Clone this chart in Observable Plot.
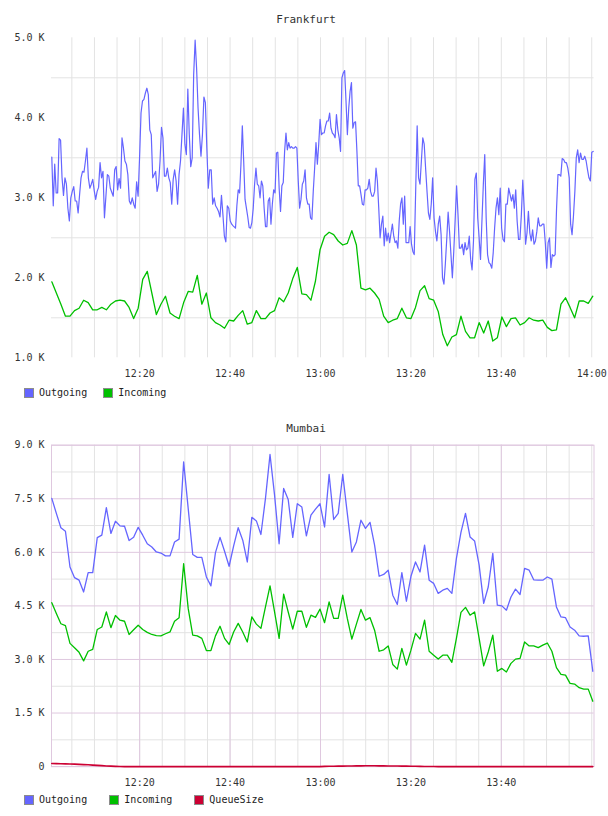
<!DOCTYPE html>
<html><head><meta charset="utf-8">
<script src="https://cdn.jsdelivr.net/npm/d3@7"></script>
<script src="https://cdn.jsdelivr.net/npm/@observablehq/plot@0.6"></script>
<style>
body{margin:0;background:#fff;}
#page{position:relative;width:608px;height:816px;overflow:hidden;font-family:"DejaVu Sans Mono",monospace;color:#222;}
.title{position:absolute;left:0;width:612px;text-align:center;font-size:11px;line-height:14px;color:#333;}
.legend{position:absolute;left:24px;font-size:10px;line-height:12px;height:12px;display:flex;align-items:center;white-space:nowrap;}
.item{display:flex;align-items:center;}
.sw{display:inline-block;width:8px;height:8px;border:1px solid #8c8c8c;margin-right:5px;}
.chart{position:absolute;left:0;}
</style></head>
<body><div id="page"></div>
<script>
// ---------- data (values in K) ----------
const seriesNames = ["Outgoing", "Incoming", "QueueSize"];
const seriesColors = ["#6565ff", "#00c000", "#cc0033"];

// Frankfurt outgoing, read in three stretches (dense ~20 s samples)
const frankOutA = [3.51,2.90,3.42,3.06,3.06,3.74,3.72,3.25,3.03,3.25,
3.17,2.87,2.71,3.00,3.08,3.14,2.96,2.96,2.81,3.04,
3.25,3.33,3.32,3.46,3.62,3.25,3.12,3.17,3.23,3.09,
2.98,3.08,3.13,3.44,3.25,3.33,2.75,3.02,3.29,3.27,
3.12,3.07,3.02,3.35,3.39,3.10,3.24,3.12,3.75,3.62,
3.46,3.42,3.29,2.96,2.92,3.00,2.92,2.87,3.20,3.02,
3.50,4.06,4.21,4.23,4.31,4.37,4.29,3.85,3.79,3.25,
3.29,3.33,3.08,3.17,3.46,3.88,3.75,3.27,3.27,3.37,
3.25,3.19,2.92,3.23,3.35,3.21,2.92,3.29,3.46,3.79,
4.12,3.67,3.54,4.36,3.79,3.39,3.50,4.54,4.97,4.62,
4.12,3.79,3.52,3.79,4.26,4.19,3.62,3.12,3.35,3.35,
2.92,3.00,2.90,2.87,2.83,2.76,3.03,2.79,2.52,2.45,
2.90,2.87,2.71,2.67,2.65];
const frankOutB = [2.62,2.90,3.10,3.06,3.42,3.90,3.46,2.98,2.87,2.76,
2.63,2.62,2.69,2.87,3.17,3.37,3.17,3.15,3.00,3.21,
3.15,2.87,2.64,2.64,2.96,3.00,2.67,2.92,3.10,3.06,
3.56,3.57,3.12,2.83,3.15,3.19,3.58,3.81,3.60,3.69,
3.62,3.64,3.62,3.62,3.64,3.62,3.21,2.87,2.98,3.17,
3.21,3.35,3.00,2.92,2.92,2.75,2.73,3.08,3.37,3.69,
3.42,3.67,3.98,3.79,3.81,3.81,3.90,3.96,3.96,4.06,
3.87,3.81,3.79,3.75,4.04,3.85,3.75,3.58,4.50,4.56,
4.59,4.21,3.79,4.12,4.33,4.44,3.87,3.94,3.95,3.58,
3.15,3.15,3.04,2.92,2.91,3.10,3.10,3.12,3.23,3.08,
3.02,3.02,3.08,3.37,3.21,2.87,2.50,2.67,2.77,2.40,
2.62,2.46,2.56,2.44,2.56,2.67,2.52,2.44,2.46,2.37,
2.71,2.92,3.00,2.67,3.02,2.44,2.44,2.44,2.64,2.42,
2.33,2.29];
const frankOutC = [3.90,3.25,3.17,3.46,3.75,3.67,3.37,3.08,2.81,
2.73,2.92,3.25,2.75,2.58,2.46,2.67,2.77,2.54,2.00,
1.92,2.17,2.48,2.82,2.58,2.29,2.00,2.33,2.73,3.15,
2.79,2.37,2.37,2.42,2.29,2.44,2.35,2.37,2.52,2.23,
2.10,2.46,3.23,3.31,2.75,2.50,2.23,2.71,3.17,3.54,
2.75,2.29,2.19,2.17,2.12,2.31,2.62,2.87,3.00,2.79,
3.12,2.62,2.48,2.45,2.92,2.92,3.12,3.04,2.96,3.04,
2.87,3.10,2.71,2.48,2.48,2.79,3.22,2.87,2.42,2.56,
2.83,2.56,2.46,2.60,2.42,2.46,2.58,2.75,2.65,2.65,
2.67,2.67,2.44,2.12,2.44,2.50,2.13,2.29,2.27,2.29,
2.87,3.29,3.29,3.27,3.49,3.48,3.44,3.44,3.37,3.25,
2.67,2.54,2.77,3.08,3.50,3.60,3.44,3.56,3.48,3.48,
3.52,3.46,3.35,3.25,3.21,3.57,3.58];
const frankOutSpans = [["12:00:34","12:40:41"],["12:41:12","13:20:44"],["13:21:23","14:00:19"]];

// Frankfurt incoming (1-minute samples)
const frankIn = [1.95,1.81,1.67,1.52,1.52,1.59,1.62,1.72,1.69,1.60,
1.60,1.63,1.60,1.67,1.71,1.72,1.71,1.63,1.49,1.62,
1.98,2.08,1.81,1.54,1.67,1.77,1.56,1.52,1.49,1.69,
1.83,1.82,2.03,1.67,1.81,1.50,1.44,1.41,1.37,1.47,
1.46,1.53,1.59,1.42,1.44,1.59,1.49,1.49,1.56,1.59,
1.75,1.70,1.81,1.99,2.13,1.80,1.79,1.72,1.96,2.35,
2.52,2.57,2.54,2.46,2.41,2.43,2.59,2.41,1.87,1.85,
1.87,1.81,1.73,1.52,1.44,1.47,1.49,1.62,1.50,1.49,
1.63,1.84,1.90,1.74,1.72,1.58,1.29,1.15,1.26,1.29,
1.52,1.33,1.25,1.25,1.44,1.31,1.46,1.21,1.25,1.51,
1.39,1.49,1.50,1.41,1.44,1.50,1.47,1.46,1.47,1.38,
1.34,1.35,1.67,1.75,1.63,1.50,1.71,1.71,1.68,1.77];

// Mumbai (1-minute samples)
const mumOut = [7.51,7.09,6.69,6.59,5.59,5.29,5.22,4.89,5.43,5.43,
6.41,6.48,7.25,6.53,6.87,6.74,6.73,6.33,6.42,6.70,
6.48,6.24,6.15,6.01,5.98,5.90,5.90,6.29,6.37,8.53,
7.23,5.94,5.86,5.86,5.31,5.06,5.99,6.42,6.03,5.61,
6.18,6.69,6.34,5.73,6.98,6.88,6.50,7.51,8.74,7.60,
6.24,7.79,7.48,6.42,7.36,7.27,6.46,7.04,7.21,7.36,
6.71,8.18,6.92,7.09,8.18,7.09,6.01,6.29,6.90,6.67,
6.84,6.20,5.33,5.38,5.50,4.80,4.54,5.43,4.63,5.33,
5.73,5.45,6.20,5.22,5.13,4.85,4.94,4.99,4.85,5.83,
6.56,7.09,6.43,6.32,5.64,4.57,5.03,5.97,4.52,4.50,
4.38,4.75,4.97,4.82,5.55,5.50,5.23,5.22,5.22,5.31,
5.25,4.47,4.19,4.17,3.91,3.82,3.66,3.65,3.66,2.67];
const mumIn = [4.59,4.29,4.00,3.95,3.45,3.33,3.20,2.96,3.23,3.28,
3.84,3.91,4.33,3.89,4.23,4.10,4.07,3.70,3.83,3.96,
3.84,3.76,3.70,3.67,3.66,3.72,3.77,4.07,4.17,5.68,
4.43,3.68,3.66,3.59,3.25,3.25,3.66,3.93,3.59,3.42,
3.77,4.01,3.77,3.49,4.19,3.99,3.87,4.47,5.06,4.33,
3.59,4.83,4.33,3.85,4.35,4.35,3.90,4.24,4.18,4.41,
4.03,4.61,4.15,4.15,4.80,4.15,3.57,3.99,4.40,4.10,
4.17,3.82,3.23,3.27,3.38,2.86,2.73,3.31,2.84,3.26,
3.73,3.57,4.10,3.23,3.12,3.01,3.12,3.12,2.92,3.59,
4.32,4.46,4.24,4.33,3.59,2.82,3.21,3.68,2.67,2.75,
2.65,2.89,3.01,3.03,3.49,3.38,3.38,3.33,3.40,3.46,
3.23,2.77,2.58,2.56,2.33,2.31,2.21,2.17,2.17,1.83];
const mumQueue = [0.088,0.084,0.080,0.076,0.072,0.068,0.062,0.056,0.050,0.042,
0.034,0.026,0.018,0.012,0.006,0.002,0,0,0,0,
0,0,0,0,0,0,0,0,0,0,
0,0,0,0,0,0,0,0,0,0,
0,0,0,0,0,0,0,0,0,0,
0,0,0,0,0,0,0,0,0,0,
0.005,0.008,0.010,0.012,0.014,0.016,0.018,0.020,0.020,0.022,
0.022,0.022,0.020,0.020,0.018,0.018,0.016,0.014,0.012,0.010,
0.008,0.006,0.004,0.002,0.001,0,0,0,0,0,
0,0,0,0,0,0,0,0,0,0,
0,0,0,0,0,0,0,0,0,0,
0,0,0,0,0,0,0,0,0,0];
const minuteSpan = ["12:00:34", "14:00:14"];

// axes / ticks
const timeDomain = ["12:00:30", "14:00:30"];
const frankTickLabels = ["12:20","12:40","13:00","13:20","13:40","14:00"];
const mumTickLabels = ["12:20","12:40","13:00","13:20","13:40"];
const frankYTicks = [1, 2, 3, 4, 5];
const frankYGrid = [1.5, 2.5, 3.5, 4.5];
const mumYTicks = [0, 1.5, 3, 4.5, 6, 7.5, 9];
const mumYMinor = [0.75, 2.25, 3.75, 5.25, 6.75, 8.25];

// ---------- helpers ----------
const pT = d3.utcParse("%H:%M:%S");
const pHM = d3.utcParse("%H:%M");
function spread(values, span) {
  const t0 = +pT(span[0]), t1 = +pT(span[1]), n = values.length;
  return values.map((v, i) => ({t: new Date(t0 + (t1 - t0) * i / (n - 1)), v}));
}
const xDom = timeDomain.map(pT);
const grid5 = d3.utcMinute.every(5).range(xDom[0], xDom[1]);
const fmtK = d => d === 0 ? "0" : d.toFixed(1) + " K";
const GRAY = "#e3e3e3", PURPLE = "#dfc8df";
const baseStyle = {fontFamily: "'DejaVu Sans Mono', monospace", fontSize: "10px", color: "#333", background: "transparent"};

const frankOutData = [frankOutA, frankOutB, frankOutC].flatMap((a, i) => spread(a, frankOutSpans[i]));
const frankInData = spread(frankIn, minuteSpan);

const page = document.getElementById("page");
function addTitle(text, top) {
  const d = document.createElement("div"); d.className = "title"; d.style.top = top + "px"; d.textContent = text; page.appendChild(d);
}
function addLegend(names, top, gap) {
  const d = document.createElement("div"); d.className = "legend"; d.style.top = top + "px";
  names.forEach((n, i) => {
    const it = document.createElement("span"); it.className = "item";
    if (i < names.length - 1) it.style.marginRight = gap + "px";
    const sw = document.createElement("span"); sw.className = "sw"; sw.style.background = seriesColors[i];
    it.appendChild(sw); it.appendChild(document.createTextNode(n)); d.appendChild(it);
  });
  page.appendChild(d);
}

// ---------- Frankfurt ----------
addTitle("Frankfurt", 13);
const c1 = Plot.plot({
  width: 608, height: 388, marginTop: 37.3, marginBottom: 30.7, marginLeft: 51, marginRight: 14.5,
  style: baseStyle,
  x: {type: "utc", domain: xDom},
  y: {domain: [1, 5]},
  marks: [
    Plot.gridX(grid5, {stroke: GRAY, strokeOpacity: 1}),
    Plot.gridY(frankYGrid, {stroke: GRAY, strokeOpacity: 1}),
    Plot.axisX({ticks: frankTickLabels.map(pHM), tickFormat: d3.utcFormat("%H:%M"), tickSize: 0, tickPadding: 12, label: null}),
    Plot.axisY({ticks: frankYTicks, tickFormat: fmtK, tickSize: 0, tickPadding: 7, label: null}),
    Plot.line(frankInData, {x: "t", y: "v", stroke: seriesColors[1], strokeWidth: 1.3}),
    Plot.line(frankOutData, {x: "t", y: "v", stroke: seriesColors[0], strokeWidth: 1.2})
  ]
});
c1.classList.add("chart"); c1.style.top = "0px"; page.appendChild(c1);
addLegend(seriesNames.slice(0, 2), 387, 16);

// ---------- Mumbai ----------
addTitle("Mumbai", 421.5);
const c2 = Plot.plot({
  width: 608, height: 392, marginTop: 44.7, marginBottom: 25.9, marginLeft: 51, marginRight: 14.5,
  style: baseStyle,
  x: {type: "utc", domain: xDom},
  y: {domain: [0, 9]},
  marks: [
    Plot.gridX(grid5, {stroke: GRAY, strokeOpacity: 1}),
    Plot.gridY(mumYMinor, {stroke: GRAY, strokeOpacity: 1}),
    Plot.gridX(mumTickLabels.map(pHM), {stroke: PURPLE, strokeOpacity: 1}),
    Plot.gridY(mumYTicks, {stroke: PURPLE, strokeOpacity: 1}),
    Plot.frame({stroke: PURPLE, strokeOpacity: 1}),
    Plot.axisX({ticks: mumTickLabels.map(pHM), tickFormat: d3.utcFormat("%H:%M"), tickSize: 0, tickPadding: 12, label: null}),
    Plot.axisY({ticks: mumYTicks, tickFormat: fmtK, tickSize: 0, tickPadding: 7, label: null}),
    Plot.line(spread(mumIn, minuteSpan), {x: "t", y: "v", stroke: seriesColors[1], strokeWidth: 1.3}),
    Plot.line(spread(mumOut, minuteSpan), {x: "t", y: "v", stroke: seriesColors[0], strokeWidth: 1.3}),
    Plot.line(spread(mumQueue, minuteSpan), {x: "t", y: "v", stroke: seriesColors[2], strokeWidth: 1.6})
  ]
});
c2.classList.add("chart"); c2.style.top = "400px"; page.appendChild(c2);
addLegend(seriesNames, 794, 22);
</script>
</body></html>
